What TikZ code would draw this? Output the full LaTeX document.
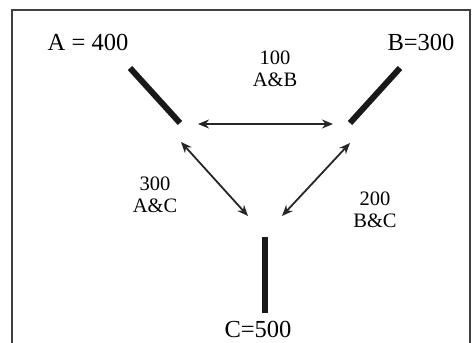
\documentclass[tikz,border=0pt]{standalone}
\usepackage{fontspec}
\setmainfont{Liberation Serif}
\usetikzlibrary{arrows.meta}
\begin{document}
\begin{tikzpicture}[x=1pt,y=-1pt,
  bigtxt/.style={inner sep=0pt,font=\fontsize{24.5}{26}\selectfont},
  smalltxt/.style={inner sep=0pt,align=center,font=\fontsize{20.5}{22}\selectfont},
  bar/.style={line width=6pt,line cap=butt,black!90},
  link/.style={line width=1.8pt,black!85,{Stealth[length=11pt,width=9pt]}-{Stealth[length=11pt,width=9pt]}},
  frame/.style={line width=1.4pt,black!75}]
\useasboundingbox (0,0) rectangle (472,343);
\draw[frame] (12,360) -- (12,10) -- (470,10) -- (470,360);
% bars
\draw[bar] (130,68) -- (180,123);
\draw[bar] (400,68) -- (350,123);
\draw[bar] (265,237) -- (265,313);
% arrow ends
\coordinate (ab1) at (198,124);
\coordinate (ab2) at (333,124);
\coordinate (ac1) at (181,142);
\coordinate (ac2) at (248,216);
\coordinate (bc1) at (350,143);
\coordinate (bc2) at (282,216);
\draw[link] (ab1) -- (ab2);
\draw[link] (ac1) -- (ac2);
\draw[link] (bc1) -- (bc2);
% labels
\node[bigtxt] (la) at (88,42) {A = 400};
\node[bigtxt] (lb) at (421,42) {B=300};
\node[bigtxt] (lc) at (258,329) {C=500};
\node[smalltxt] (lab) at (275,69) {100\\A\&B};
\node[smalltxt] (lac) at (155,195) {300\\A\&C};
\node[smalltxt] (lbc) at (375,210) {200\\B\&C};
\end{tikzpicture}
\end{document}
